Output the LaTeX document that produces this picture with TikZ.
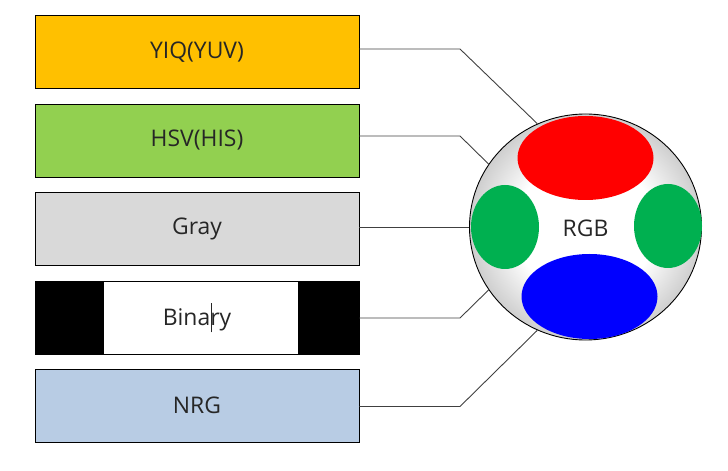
\documentclass[tikz,border=0pt]{standalone}
\usepackage{fontspec}
\setmainfont{Open Sans}
\usetikzlibrary{shapes.geometric,calc}
\definecolor{cyiq}{HTML}{FFC000}
\definecolor{chsv}{HTML}{92D050}
\definecolor{cgray}{HTML}{D9D9D9}
\definecolor{cnrg}{HTML}{B8CCE4}
\definecolor{cred}{HTML}{FF0000}
\definecolor{cgreen}{HTML}{00B050}
\definecolor{cblue}{HTML}{0000FF}
\definecolor{cline}{HTML}{404040}
\pgfdeclareradialshading{rgbshade}{\pgfpoint{0bp}{0bp}}{color(0bp)=(white); color(15bp)=(white); color(25bp)=(black!19); color(50bp)=(black!19)}
\tikzset{
  lbl/.style={font=\fontsize{23}{27}\selectfont, text=black!85},
  spacebox/.style={lbl, draw=black, line width=0.8pt, minimum width=324bp, minimum height=73bp, inner sep=0pt},
  conn/.style={draw=cline, line width=0.9pt},
  blob/.style={ellipse, draw=none, inner sep=0pt}
}
\begin{document}
\begin{tikzpicture}[x=1bp,y=-1bp]
\useasboundingbox (0,0) rectangle (728,471);
% boxes
\node[spacebox, fill=cyiq] (yiq) at (197,52) {YIQ(YUV)};
\node[spacebox, fill=chsv] (hsv) at (197,140.5) {HSV(HIS)};
\node[spacebox, fill=cgray] (gray) at (197,228.5) {Gray};
\node[spacebox, fill=white] (bin) at (197,317.5) {};
\fill[black] (bin.north west) rectangle (104,354);
\fill[black] (298,281) rectangle (bin.south east);
\node[lbl, inner sep=0pt] (bintext) at (bin.center) {Bina\rlap{\kern0.5bp\rule[-0.3em]{0.7bp}{1.3em}}ry};
\node[spacebox, fill=cnrg] (nrg) at (197,405.5) {NRG};
% circle
\node[ellipse, draw=black, line width=0.9pt, shading=rgbshade, minimum width=232bp, minimum height=226bp, inner sep=0pt] (rgb) at (585.5,227) {};
\node[blob, fill=cred, minimum width=136bp, minimum height=84bp] (red) at (585.5,158) {};
\node[blob, fill=cblue, minimum width=136bp, minimum height=85bp] (blue) at (589.5,296.5) {};
\node[blob, fill=cgreen, minimum width=68bp, minimum height=84bp] (gl) at (505,227) {};
\node[blob, fill=cgreen, minimum width=68bp, minimum height=84bp] (gr) at (668,226) {};
\node[lbl, inner sep=0pt] (rgbtext) at (585.5,228) {RGB};
% bend points
\coordinate (b1) at (460,49);
\coordinate (b2) at (460,136);
\coordinate (b4) at (460,318);
\coordinate (b5) at (460,406.5);
% connectors
\draw[conn] (yiq.east |- b1) -- (b1) -- (rgb.115.6);
\draw[conn] (hsv.east |- b2) -- (b2) -- (rgb.147);
\draw[conn] (gray.east |- rgb.west) -- (rgb.west);
\draw[conn] (bin.east |- b4) -- (b4) -- (rgb.213.5);
\draw[conn] (nrg.east |- b5) -- (b5) -- (rgb.245);
\end{tikzpicture}
\end{document}
